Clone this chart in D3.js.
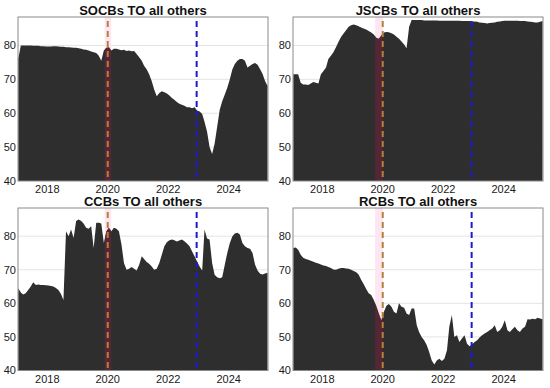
<!DOCTYPE html>
<html>
<head>
<meta charset="utf-8">
<script src="https://cdn.jsdelivr.net/npm/d3@7"></script>
<style>
  body { margin: 0; background: #fff; }
  svg { display: block; font-family: "Liberation Sans", Arial, sans-serif; }
</style>
</head>
<body>
<div id="chart"></div>
<script>
// Total connectedness "TO all others", monthly readings Jan 2017 - Apr 2025
const panelTitles = ["SOCBs TO all others", "JSCBs TO all others", "CCBs TO all others", "RCBs TO all others"];
const firstMonth = "2017-01-15";

const socbs = [76, 80, 80, 80, 80, 80, 79.9, 79.9, 79.9, 79.8, 79.8, 79.7, 79.7, 79.7, 79.8, 79.8, 79.7, 79.6, 79.6, 79.5,
  79.5, 79.4, 79.3, 79.3, 79.2, 79.0, 78.8, 78.7, 78.5, 78.2, 78, 77.8, 77, 75.5, 78.5, 79.3, 79.5, 78.5, 79, 79,
  78.8, 78.6, 78.7, 78.4, 78.5, 78.3, 78.4, 77.5, 76.5, 75.5, 74, 73, 71.5, 69.5, 67, 65, 66, 66.5, 66.2, 65.8,
  65.2, 64.5, 64, 63.3, 62.8, 62.5, 62.2, 61.8, 61.8, 61.5, 61.8, 60.8, 60.5, 59.8, 57.5, 54.5, 50, 48, 51, 56,
  61, 63.5, 65.5, 67.5, 70, 73, 74.5, 75.5, 76, 76, 75.5, 73.5, 74, 74.5, 74.8, 74.3, 73, 71.5, 69.5, 68];

const jscbs = [71.5, 71.5, 71.5, 69, 68.5, 68.5, 68.3, 68.8, 69.2, 69, 68.8, 71.5, 72.5, 73.5, 76, 77, 78, 79.5, 81, 82.5,
  83.5, 84.5, 85.5, 86, 86.2, 86, 85.7, 85.3, 85, 84.7, 84.3, 83.8, 83.2, 82.3, 82, 83, 83.8, 84, 83.9, 83.6,
  83.2, 82.6, 82, 81.2, 80.3, 79.2, 85.5, 87.5, 87.5, 87.5, 87.5, 87.5, 87.4, 87.4, 87.4, 87.4, 87.4, 87.4, 87.3, 87.3,
  87.3, 87.3, 87.3, 87.3, 87.3, 87.3, 87.3, 87.2, 87.2, 87.2, 87.2, 87.1, 87.1, 87.0, 86.8, 86.7, 86.6, 86.5, 86.6, 86.7,
  86.8, 87.0, 87.1, 87.2, 87.3, 87.3, 87.3, 87.3, 87.3, 87.3, 87.2, 87.2, 87.2, 87.1, 87, 86.9, 86.8, 86.8, 87, 87.2];

const ccbs = [64.5, 63.2, 62.6, 63, 64, 65, 66.3, 65.5, 65.6, 65.5, 65.5, 65.4, 65.3, 65.2, 65, 64.6, 64, 62.8, 61, 81.5,
  80, 82, 79.5, 84.5, 85, 84.5, 83.8, 82.5, 82.2, 83, 76.5, 84, 84, 83.8, 78, 81.5, 82.5, 81.5, 82.5, 82.2,
  81.5, 77.5, 72, 70, 70.3, 70.8, 70.3, 69.8, 71.5, 74, 73.2, 72.3, 71.8, 71, 70, 70.3, 72, 74.5, 77, 78.2,
  78.8, 79, 78.8, 78.4, 78.7, 79, 78.5, 77.8, 77, 75.5, 74, 72.5, 71, 69.8, 82, 79.3, 79, 72, 68.5, 67.8,
  67.5, 67.8, 71.5, 75, 78, 80, 80.8, 81, 80.5, 78, 77, 76.5, 76.3, 75, 71.5, 69.8, 68.8, 68.6, 68.9, 69.1];

const rcbs = [76.5, 76.6, 76, 74.5, 73.6, 73.2, 73, 72.7, 72.4, 72.1, 71.9, 71.6, 71.3, 71.1, 70.8, 70.5, 70.1, 70, 70.3, 70.5,
  70.5, 70.4, 70.3, 70, 69.6, 69.3, 68.6, 67, 65.8, 64.3, 63, 62.5, 61, 59.2, 57, 55, 57.5, 59.3, 59.8, 59,
  57.5, 57, 60, 59, 58.7, 57, 56.5, 58.5, 58.5, 53.5, 51.5, 50, 49, 47.6, 45.5, 43, 41.8, 43, 43.5, 42.8,
  43.5, 46, 53, 56.5, 50, 50.5, 48.5, 49.5, 50.5, 48, 47.2, 47.8, 48.5, 49, 49.8, 50.5, 51, 51.5, 52, 52.5,
  53.5, 51.5, 52, 53, 55, 52, 51.5, 52.3, 53, 52, 51.5, 52.5, 53, 55.3, 55.2, 55.4, 55.3, 55.7, 55.5, 55.3];

const seriesList = [socbs, jscbs, ccbs, rcbs];

// shaded event window and the two reference dates
const bandStart = ["2019-11-25", "2019-10-01", "2019-11-25", "2019-10-01"];
const bandEnd = ["2020-02-12", "2020-01-01", "2020-02-12", "2020-01-01"];
const eventDates = ["2020-01-01", "2022-12-10"];
const eventColors = ["#b5803a", "#1c1ccf"];

const yTicks = [40, 50, 60, 70, 80];
const xTicks = ["2018-01-01", "2020-01-01", "2022-01-01", "2024-01-01"];

const parse = d3.timeParse("%Y-%m-%d");
const start = parse(firstMonth);
const dates = d3.range(socbs.length).map(i => d3.timeMonth.offset(start, i));

const width = 550, height = 388;
const svg = d3.select("#chart").append("svg")
  .attr("width", width)
  .attr("height", height);

// plot rectangles for each panel
const panels = [
  {x0: 18, x1: 268, y0: 17, y1: 181},
  {x0: 293, x1: 543, y0: 17, y1: 181},
  {x0: 18, x1: 268, y0: 208, y1: 370.5},
  {x0: 293, x1: 543, y0: 208, y1: 370.5}
];

panels.forEach(function(p, k) {
  const values = seriesList[k];
  const data = dates.map((d, i) => ({date: d, value: values[i]}));

  const x = d3.scaleTime()
    .domain([parse("2017-01-12"), parse("2025-04-20")])
    .range([p.x0, p.x1]);
  const y = d3.scaleLinear()
    .domain([40, 88.4])
    .range([p.y1, p.y0]);

  const g = svg.append("g");

  // grid
  g.selectAll(".grid")
    .data(yTicks.slice(1))
    .enter().append("line")
    .attr("x1", p.x0).attr("x2", p.x1)
    .attr("y1", d => y(d)).attr("y2", d => y(d))
    .attr("stroke", "#e4e4e4")
    .attr("stroke-width", 1);

  // light pink window behind the area
  const bx0 = x(parse(bandStart[k])), bx1 = x(parse(bandEnd[k]));
  g.append("rect")
    .attr("x", bx0).attr("y", p.y0)
    .attr("width", bx1 - bx0).attr("height", p.y1 - p.y0)
    .attr("fill", "#fde6f0");

  const area = d3.area()
    .x(d => x(d.date))
    .y0(y(40))
    .y1(d => y(d.value));

  g.append("path")
    .datum(data)
    .attr("d", area)
    .attr("fill", "#2e2e2e");

  // darker tint where the window overlaps the area
  const clipId = "clip" + k;
  g.append("clipPath").attr("id", clipId)
    .append("path").datum(data).attr("d", area);
  g.append("rect")
    .attr("x", bx0).attr("y", p.y0)
    .attr("width", bx1 - bx0).attr("height", p.y1 - p.y0)
    .attr("clip-path", `url(#${clipId})`)
    .attr("fill", "rgba(150,25,60,0.38)");

  // event lines
  g.selectAll(".event")
    .data(eventDates)
    .enter().append("line")
    .attr("x1", d => x(parse(d))).attr("x2", d => x(parse(d)))
    .attr("y1", p.y0 + 4).attr("y2", p.y1)
    .attr("stroke", (d, i) => eventColors[i])
    .attr("stroke-width", 2)
    .attr("stroke-dasharray", "6,4");

  // frame
  g.append("rect")
    .attr("x", p.x0).attr("y", p.y0)
    .attr("width", p.x1 - p.x0).attr("height", p.y1 - p.y0)
    .attr("fill", "none")
    .attr("stroke", "#8a8a8a")
    .attr("stroke-width", 1);

  // y labels
  g.selectAll(".ylab")
    .data(yTicks)
    .enter().append("text")
    .attr("x", p.x0 - 2)
    .attr("y", d => y(d))
    .attr("dy", "0.35em")
    .attr("text-anchor", "end")
    .attr("font-size", 11)
    .attr("fill", "#1a1a1a")
    .text(d => d);

  // x labels
  g.selectAll(".xlab")
    .data(xTicks)
    .enter().append("text")
    .attr("x", d => x(parse(d)))
    .attr("y", p.y1 + 12)
    .attr("text-anchor", "middle")
    .attr("font-size", 11)
    .attr("fill", "#1a1a1a")
    .text(d => d.slice(0, 4));

  // title
  g.append("text")
    .attr("x", (p.x0 + p.x1) / 2)
    .attr("y", p.y0 - 2)
    .attr("text-anchor", "middle")
    .attr("font-size", 13)
    .attr("font-weight", "bold")
    .attr("fill", "#111")
    .text(panelTitles[k]);
});
</script>
</body>
</html>
